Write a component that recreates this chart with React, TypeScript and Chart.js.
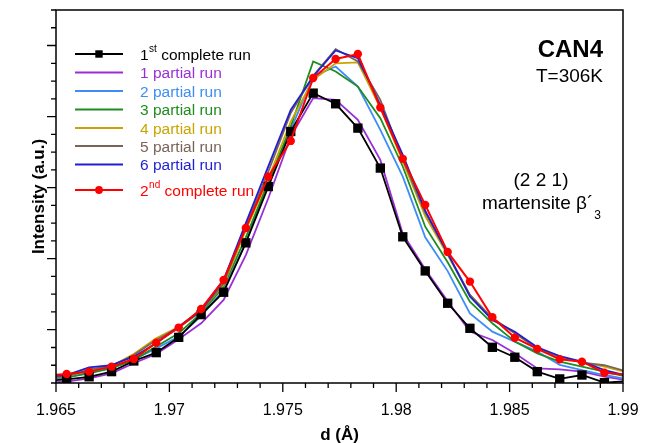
import React, { useEffect, useRef } from "react";
import { Chart, registerables } from "chart.js";

Chart.register(...registerables);

// d (Å) positions of the scan points
const dValues = [
  1.96448, 1.96547, 1.96646, 1.96745, 1.96843, 1.96942, 1.97041, 1.9714, 1.97239,
  1.97337, 1.97436, 1.97535, 1.97634, 1.97733, 1.97831, 1.9793, 1.98029, 1.98128,
  1.98227, 1.98325, 1.98424, 1.98523, 1.98622, 1.98721, 1.98819, 1.98918, 1.99017,
];

const firstComplete = [
  0.1, 0.21, 0.35, 0.64, 1.24, 1.71, 2.57, 3.85, 5.11, 7.89, 11.06, 14.16, 16.32,
  15.72, 14.35, 12.1, 8.23, 6.31, 4.49, 3.08, 2.01, 1.45, 0.64, 0.23, 0.45, 0.02, 0.1,
];
const partial1 = [
  0.0, 0.08, 0.26, 0.54, 1.11, 1.63, 2.46, 3.36, 4.68, 7.2, 10.4, 13.88, 16.04,
  15.94, 14.82, 12.56, 8.4, 6.4, 4.6, 2.9, 2.42, 1.67, 0.82, 0.77, 0.64, 0.36, 0.15,
];
const partial2 = [
  0.25, 0.32, 0.58, 0.83, 1.33, 1.95, 2.61, 3.77, 5.24, 7.9, 11.4, 14.25, 17.26,
  17.82, 16.69, 14.25, 11.62, 8.2, 6.3, 3.92, 2.89, 2.33, 1.77, 1.02, 0.73, 0.45, 0.22,
];
const partial3 = [
  0.25, 0.32, 0.54, 0.83, 1.29, 2.05, 2.8, 3.92, 5.43, 8.2, 11.3, 14.44, 18.1,
  17.54, 16.69, 14.91, 12.19, 8.8, 6.8, 4.58, 3.36, 2.33, 1.67, 1.2, 0.92, 0.64, 0.35,
];
const partial4 = [
  0.3, 0.36, 0.73, 0.96, 1.63, 2.52, 3.17, 4.07, 5.52, 8.6, 11.5, 14.72, 17.07,
  18.0, 18.05, 15.49, 12.47, 9.4, 7.2, 4.96, 3.64, 2.8, 1.95, 1.48, 1.15, 0.92, 0.6,
];
const partial5 = [
  0.3, 0.36, 0.77, 0.96, 1.58, 2.42, 3.12, 4.02, 5.61, 8.8, 11.9, 15.2, 17.3,
  18.8, 18.1, 15.94, 12.6, 9.6, 7.3, 4.96, 3.64, 2.8, 1.95, 1.48, 1.15, 1.0, 0.65,
];
const partial6 = [
  0.35, 0.45, 0.88, 1.01, 1.48, 2.24, 3.17, 4.11, 5.8, 9.0, 12.2, 15.38, 17.26,
  18.72, 18.29, 15.66, 12.85, 9.7, 7.3, 4.87, 3.55, 2.89, 2.01, 1.52, 1.2, 0.73, 0.42,
];
const secondComplete = [
  0.4, 0.51, 0.64, 0.92, 1.35, 2.27, 3.12, 4.17, 5.8, 8.73, 11.62, 13.63, 17.17,
  18.24, 18.52, 15.51, 12.62, 10.03, 7.38, 5.71, 3.7, 2.55, 1.92, 1.34, 1.2, 0.58, 0.45,
];

const xTickValues = [1.965, 1.97, 1.975, 1.98, 1.985, 1.99];
const xTickLabels = ["1.965", "1.97", "1.975", "1.98", "1.985", "1.99"];
const yMajorTicks = [3, 7, 11, 15, 19];

const X_MIN = 1.965;
const X_MAX = 1.99;
const Y_MIN = 0;
const Y_MAX = 21;

const FONT = "'Liberation Sans', Arial, Helvetica, sans-serif";

type Series = {
  main: string;
  sup?: string;
  rest?: string;
  data: number[];
  color: string;
  marker?: "rect" | "circle";
  radius?: number;
  width: number;
  order: number;
};

const SERIES: Series[] = [
  { main: "1", sup: "st", rest: " complete run", data: firstComplete, color: "#000000", marker: "rect", radius: 6.6, width: 1.8, order: 1 },
  { main: "1 partial run", data: partial1, color: "#9b2fd6", width: 1.8, order: 7 },
  { main: "2 partial run", data: partial2, color: "#3d8df5", width: 1.8, order: 6 },
  { main: "3 partial run", data: partial3, color: "#1e8c1e", width: 1.8, order: 5 },
  { main: "4 partial run", data: partial4, color: "#c9a400", width: 1.8, order: 4 },
  { main: "5 partial run", data: partial5, color: "#7a6358", width: 1.8, order: 3 },
  { main: "6 partial run", data: partial6, color: "#1f1fd1", width: 1.8, order: 2 },
  { main: "2", sup: "nd", rest: " complete run", data: secondComplete, color: "#ff0000", marker: "circle", radius: 4.2, width: 2, order: 0 },
];

const legendRowsY = [54, 72.5, 91, 109.5, 128, 146, 164.5, 190];

const decorPlugin = {
  id: "decor",
  afterDraw(chart: any) {
    const { ctx, chartArea, scales } = chart;
    const { left, right, top, bottom } = chartArea;
    const xs = scales.x;
    const ys = scales.y;
    ctx.save();
    ctx.strokeStyle = "#000";
    ctx.lineWidth = 1.5;
    ctx.strokeRect(left, top, right - left, bottom - top);

    ctx.lineWidth = 1.3;
    ctx.beginPath();
    for (let i = 0; i <= 25; i++) {
      const v = X_MIN + i * 0.001;
      const px = xs.getPixelForValue(v);
      const len = i % 5 === 0 ? 9 : 5;
      ctx.moveTo(px, bottom);
      ctx.lineTo(px, bottom + len);
    }
    for (let v = Y_MIN; v <= Y_MAX; v++) {
      const py = ys.getPixelForValue(v);
      const len = yMajorTicks.includes(v) ? 9 : 5;
      ctx.moveTo(left, py);
      ctx.lineTo(left - len, py);
    }
    ctx.stroke();

    // annotations
    ctx.fillStyle = "#000";
    ctx.textBaseline = "alphabetic";
    ctx.textAlign = "right";
    ctx.font = `bold 24px ${FONT}`;
    ctx.fillText("CAN4", 603, 57);
    ctx.font = `19px ${FONT}`;
    ctx.fillText("T=306K", 603, 82);
    ctx.textAlign = "center";
    ctx.fillText("(2 2 1)", 541, 186);
    ctx.textAlign = "left";
    const mt = "martensite β´";
    ctx.fillText(mt, 482, 209);
    const w = ctx.measureText(mt).width;
    ctx.font = `12px ${FONT}`;
    ctx.fillText("3", 482 + w + 1, 219);

    // legend
    SERIES.forEach((s, i) => {
      const y = legendRowsY[i];
      ctx.strokeStyle = s.color;
      ctx.fillStyle = s.color;
      ctx.lineWidth = s.width;
      ctx.beginPath();
      ctx.moveTo(75, y);
      ctx.lineTo(123, y);
      ctx.stroke();
      if (s.marker === "rect") {
        ctx.fillRect(99 - 3.7, y - 3.7, 7.4, 7.4);
      } else if (s.marker === "circle") {
        ctx.beginPath();
        ctx.arc(99, y, 3.9, 0, Math.PI * 2);
        ctx.fill();
      }
      ctx.textAlign = "left";
      ctx.font = `15.5px ${FONT}`;
      let tx = 140;
      ctx.fillText(s.main, tx, y + 5.5);
      tx += ctx.measureText(s.main).width;
      if (s.sup) {
        ctx.font = `10px ${FONT}`;
        ctx.fillText(s.sup, tx + 0.5, y - 2);
        tx += ctx.measureText(s.sup).width + 0.5;
      }
      if (s.rest) {
        ctx.font = `15.5px ${FONT}`;
        ctx.fillText(s.rest, tx, y + 5.5);
      }
    });
    ctx.restore();
  },
};

export default function App() {
  const ref = useRef<HTMLCanvasElement>(null);
  useEffect(() => {
    const canvas = ref.current;
    if (!canvas) return;
    const inRange = (c: any, r: number) => {
      const v = dValues[c.dataIndex];
      return v >= X_MIN && v <= X_MAX ? r : 0;
    };
    const datasets = SERIES.map((s) => ({
      label: s.main + (s.sup || "") + (s.rest || ""),
      data: dValues.map((d, j) => ({ x: d, y: s.data[j] })),
      borderColor: s.color,
      backgroundColor: s.color,
      borderWidth: s.width,
      pointStyle: s.marker || "circle",
      pointRadius: s.marker ? (c: any) => inRange(c, s.radius || 0) : 0,
      pointHoverRadius: 0,
      pointBorderWidth: 0,
      tension: 0,
      order: s.order,
    }));
    const chart = new Chart(canvas, {
      type: "line",
      data: { datasets },
      plugins: [decorPlugin],
      options: {
        animation: false,
        responsive: true,
        maintainAspectRatio: false,
        events: [],
        layout: { padding: { top: 10, right: 28, left: 0, bottom: 0 } },
        plugins: { legend: { display: false }, tooltip: { enabled: false } },
        scales: {
          x: {
            type: "linear",
            min: X_MIN,
            max: X_MAX,
            afterFit: (s: any) => {
              s.height = 60;
            },
            afterBuildTicks: (s: any) => {
              s.ticks = xTickValues.map((v) => ({ value: v }));
            },
            ticks: {
              autoSkip: false,
              maxRotation: 0,
              color: "#000",
              padding: 10,
              font: { family: FONT, size: 16 },
              callback: (_v: any, i: number) => xTickLabels[i],
            },
            grid: { display: false },
            border: { display: false },
            title: {
              display: true,
              text: "d (Å)",
              color: "#000",
              font: { family: FONT, size: 17, weight: "bold" },
              padding: { top: 0, bottom: -3 },
            },
          },
          y: {
            type: "linear",
            min: Y_MIN,
            max: Y_MAX,
            afterFit: (s: any) => {
              s.width = 56;
            },
            ticks: { display: false },
            grid: { display: false },
            border: { display: false },
            title: {
              display: true,
              text: "Intensity (a.u.)",
              color: "#000",
              font: { family: FONT, size: 17, weight: "bold" },
              padding: { top: 29, bottom: 0 },
            },
          },
        },
      } as any,
    });
    return () => chart.destroy();
  }, []);
  return (
    <div style={{ position: "absolute", left: 0, top: 0, width: 651, height: 443 }}>
      <canvas ref={ref} />
    </div>
  );
}
